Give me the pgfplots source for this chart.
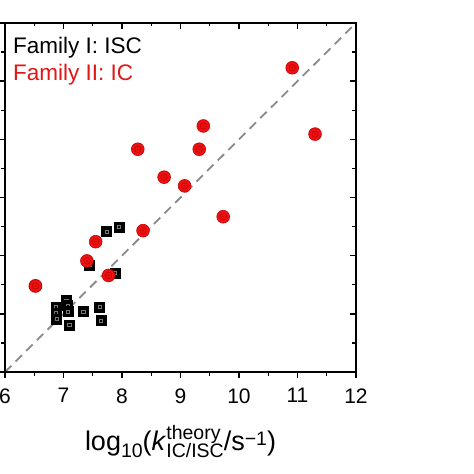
\documentclass[border=0pt]{standalone}
\usepackage{fontspec}
\setmainfont{Liberation Sans}
\usepackage{pgfplots}
\usepackage{pgfplotstable}
\pgfplotsset{compat=1.18}

\definecolor{icred}{RGB}{236,18,18}
\definecolor{icdark}{RGB}{196,0,0}
\definecolor{legred}{RGB}{226,22,22}
\definecolor{dashgray}{RGB}{138,138,138}
\definecolor{innergray}{RGB}{120,120,120}

\newcommand\scr{\fontsize{19.5}{19.5}\selectfont}

% Family I (ISC), black squares
\pgfplotstableread{
x y
7.74 8.41
7.95 8.49
7.45 7.84
7.88 7.70
6.87 7.12
6.87 7.01
6.88 6.91
7.05 7.23
7.07 7.14
7.08 7.04
7.10 6.81
7.34 7.04
7.62 7.12
7.64 6.88
}\famI

% Family II (IC), red circles
\pgfplotstableread{
x y
6.52 7.48
7.40 7.91
7.55 8.24
7.77 7.66
8.36 8.43
9.73 8.67
8.27 9.83
8.72 9.35
9.07 9.20
9.32 9.83
9.39 10.23
10.91 11.23
11.30 10.09
}\famII

\pgfdeclareplotmark{iscsq}{%
  \pgfsetfillcolor{black}\pgfsetstrokecolor{black}%
  \pgfpathrectanglecorners{\pgfpoint{-\pgfplotmarksize}{-\pgfplotmarksize}}{\pgfpoint{\pgfplotmarksize}{\pgfplotmarksize}}%
  \pgfusepathqfillstroke
  \pgfsetstrokecolor{innergray}\pgfsetlinewidth{0.7pt}%
  \pgfpathrectanglecorners{\pgfpoint{-0.32\pgfplotmarksize}{-0.32\pgfplotmarksize}}{\pgfpoint{0.32\pgfplotmarksize}{0.32\pgfplotmarksize}}%
  \pgfusepathqstroke
}
\pgfdeclareplotmark{iccirc}{%
  \pgfsetfillcolor{icred}\pgfsetstrokecolor{icdark}%
  \pgfpathcircle{\pgfpointorigin}{\pgfplotmarksize}%
  \pgfusepathqfillstroke
  \pgfsetlinewidth{0.6pt}%
  \pgfpathcircle{\pgfpointorigin}{0.5\pgfplotmarksize}%
  \pgfusepathqstroke
  \pgfsetfillcolor{icdark}%
  \pgfpathcircle{\pgfpointorigin}{0.14\pgfplotmarksize}%
  \pgfusepathqfill
}

\begin{document}
\begin{tikzpicture}
\pgfplotsset{
  frame/.style={
    scale only axis, width=351pt, height=349pt,
    xmin=6, xmax=12, ymin=6, ymax=12,
    xtick={6,7,...,12}, ytick={6,7,...,12},
    minor x tick num=1, minor y tick num=1,
    axis line style={line width=1.6pt},
    every tick/.style={black, line width=1.4pt},
    major tick length=6pt, minor tick length=3.5pt,
    yticklabels={},
  }
}
\begin{axis}[
    frame,
    tick align=outside, xtick pos=left, ytick pos=left,
    /pgf/number format/assume math mode=true,
    xticklabel style={font=\fontsize{21}{21}\selectfont, yshift=-7pt},
]
\addplot[dashgray, line width=1.8pt, dash pattern=on 9pt off 6pt] coordinates {(6,6) (12,12)};
\addplot[only marks, mark=iscsq, mark size=5pt, line width=0.9pt] table {\famI};
\addplot[only marks, mark=iccirc, mark size=6.4pt, line width=0.9pt] table {\famII};
\node[anchor=base west, inner sep=0pt, font=\fontsize{22.5}{27}\selectfont] at (axis cs:6.137,11.48) {Family I: ISC};
\node[anchor=base west, inner sep=0pt, text=legred, font=\fontsize{22.5}{27}\selectfont] at (axis cs:6.137,11.01) {Family II: IC};
\end{axis}
\begin{axis}[
    frame,
    tick align=inside, xtick pos=right, ytick pos=right,
    xticklabels={},
]
\end{axis}
\node[anchor=base, inner sep=0pt, font=\fontsize{27}{27}\selectfont] at ([yshift=-78.7pt]current axis.south)
  {log\raisebox{-6.7pt}{\scr 10}(\textit{k}\makebox[0pt][l]{\raisebox{11.5pt}{\scr theory}}\raisebox{-7pt}{\scr IC/ISC}/s\raisebox{5pt}{\scr −1})};
\pgfresetboundingbox
\path[use as bounding box] (current axis.south west) ++(-5pt,-102pt) rectangle ++(474pt,474pt);
\end{tikzpicture}
\end{document}
